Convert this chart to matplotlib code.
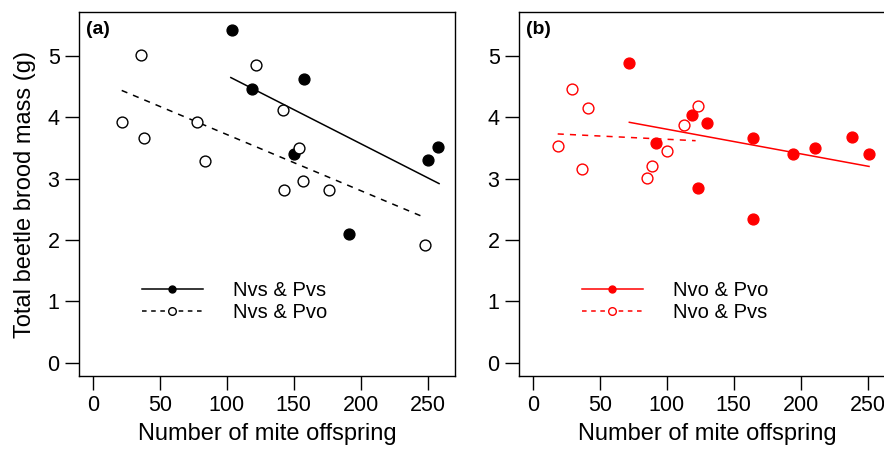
import matplotlib
matplotlib.use("Agg")
import matplotlib.pyplot as plt
from matplotlib.lines import Line2D

plt.rcParams["font.family"] = ["Liberation Sans", "DejaVu Sans"]

# panel (a): Nvs & Pvs (filled) and Nvs & Pvo (open)
a_fill_x = [104, 119, 158, 150, 191, 250, 258]
a_fill_y = [5.43, 4.47, 4.63, 3.41, 2.09, 3.30, 3.51]
a_open_x = [36, 22, 38, 78, 84, 122, 142, 154, 143, 157, 176, 248]
a_open_y = [5.02, 3.93, 3.66, 3.93, 3.29, 4.86, 4.12, 3.50, 2.81, 2.97, 2.81, 1.91]
a_fill_fit_x = [103, 258.5]
a_fill_fit_y = [4.65, 2.92]
a_open_fit_x = [21.5, 248.5]
a_open_fit_y = [4.44, 2.36]

# panel (b): Nvo & Pvo (filled) and Nvo & Pvs (open)
b_fill_x = [72, 92, 119, 130, 123, 164, 164, 194, 211, 238, 251]
b_fill_y = [4.88, 3.58, 4.04, 3.91, 2.84, 3.66, 2.35, 3.40, 3.50, 3.68, 3.40]
b_open_x = [19, 29, 41, 37, 85, 89, 100, 113, 123]
b_open_y = [3.53, 4.47, 4.16, 3.15, 3.01, 3.21, 3.45, 3.88, 4.19]
b_fill_fit_x = [72, 251]
b_fill_fit_y = [3.92, 3.20]
b_open_fit_x = [18.5, 121.5]
b_open_fit_y = [3.73, 3.62]

x_ticks = [0, 50, 100, 150, 200, 250]
y_ticks = [0, 1, 2, 3, 4, 5]

W, H = 884, 449
fig = plt.figure(figsize=(W / 100, H / 100), dpi=100)
ax_a = fig.add_axes([79 / W, 1 - 376 / H, 376 / W, 364 / H])
ax_b = fig.add_axes([519 / W, 1 - 376 / H, 376 / W, 364 / H])

DASH = (0, (4, 4))


def draw_panel(ax, fx, fy, ox, oy, ffx, ffy, ofx, ofy, color, labels, tag):
    ax.plot(ffx, ffy, color=color, lw=1.1)
    ax.plot(ofx, ofy, color=color, lw=1.1, linestyle=DASH)
    ax.plot(fx, fy, "o", ms=7.8, mfc=color, mec=color, mew=1.0)
    ax.plot(ox, oy, "o", ms=7.8, mfc="white", mec=color, mew=1.0)

    ax.set_xlim(-10.4, 270.4)
    ax.set_ylim(-0.22, 5.72)
    ax.set_xticks(x_ticks)
    ax.set_yticks(y_ticks)
    ax.tick_params(direction="out", length=10, width=1, labelsize=15.5, pad=4)
    for s in ax.spines.values():
        s.set_linewidth(1)
    ax.set_xlabel("Number of mite offspring", fontsize=17, labelpad=5)

    handles = [
        Line2D([], [], color=color, lw=1.1, marker="o", ms=5, mfc=color, mec=color),
        Line2D([], [], color=color, lw=1.1, linestyle=(0, (3, 3)), marker="o",
               ms=5.5, mfc="white", mec=color),
    ]
    ax.legend(handles, labels, loc="center left", bbox_to_anchor=(0.168, 0.205),
              frameon=False, fontsize=14.5, handlelength=3.0, handletextpad=1.5,
              labelspacing=0.12, borderpad=0, borderaxespad=0)
    ax.text(0.019, 0.952, tag, transform=ax.transAxes, fontsize=14,
            fontweight="bold", ha="left", va="center")


draw_panel(ax_a, a_fill_x, a_fill_y, a_open_x, a_open_y,
           a_fill_fit_x, a_fill_fit_y, a_open_fit_x, a_open_fit_y,
           "black", ["Nvs & Pvs", "Nvs & Pvo"], "(a)")
draw_panel(ax_b, b_fill_x, b_fill_y, b_open_x, b_open_y,
           b_fill_fit_x, b_fill_fit_y, b_open_fit_x, b_open_fit_y,
           "#ff0000", ["Nvo & Pvo", "Nvo & Pvs"], "(b)")

ax_a.set_ylabel("Total beetle brood mass (g)", fontsize=17, labelpad=8)

fig.savefig("out.png", dpi=100)
